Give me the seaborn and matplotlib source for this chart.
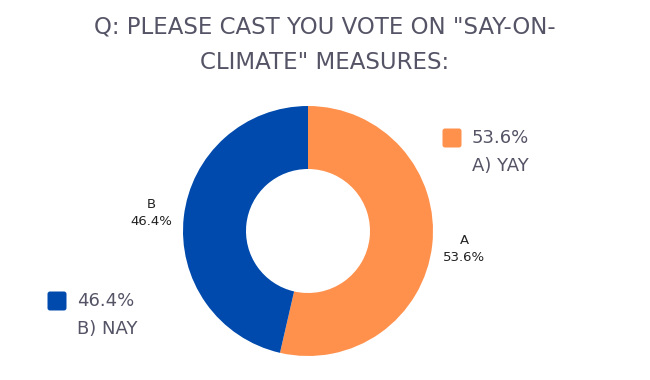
"""Donut chart of the say-on-climate vote."""

import matplotlib

matplotlib.use("Agg")

import matplotlib.pyplot as plt
import seaborn as sns
from matplotlib.patches import FancyBboxPatch

TITLE = 'Q: PLEASE CAST YOU VOTE ON "SAY-ON-\nCLIMATE" MEASURES:'
CATEGORIES = ["A", "B"]
LEGEND_NAMES = ["A) YAY", "B) NAY"]
VOTE_SHARE = [53.6, 46.4]
COLORS = ["#FF914D", "#004AAD"]

TEXT_GRAY = "#545466"
W, H = 650, 380


def main() -> None:
    sns.set_theme(style="white")
    plt.rcParams["font.family"] = ["DejaVu Sans"]

    fig = plt.figure(figsize=(W / 100, H / 100), dpi=100)
    ax = fig.add_axes([0, 0, 1, 1])

    labels = [f"{c}\n{v:.1f}%" for c, v in zip(CATEGORIES, VOTE_SHARE)]
    ax.pie(
        VOTE_SHARE,
        labels=labels,
        colors=COLORS,
        startangle=90,
        counterclock=False,
        center=(308, H - 231),
        radius=125,
        labeldistance=1.26,
        wedgeprops=dict(width=63, edgecolor="white", linewidth=0),
        textprops=dict(fontsize=9.5, color="#222222", ha="center",
                       va="center", linespacing=1.35),
        frame=True,
    )
    ax.set_xlim(0, W)
    ax.set_ylim(0, H)
    ax.set_aspect("equal")
    ax.axis("off")

    fig.text(0.5, 1 - 45 / H, TITLE, ha="center", va="center",
             fontsize=16.5, color=TEXT_GRAY, linespacing=1.7)

    # legend entries: one top right, one bottom left
    spots = [(452, 138), (57, 301)]
    for (x, y), color, share, name in zip(spots, COLORS, VOTE_SHARE,
                                          LEGEND_NAMES):
        yy = H - y
        ax.add_patch(FancyBboxPatch((x - 7, yy - 7), 14, 14,
                                    boxstyle="round,pad=2.5",
                                    facecolor=color, edgecolor="none"))
        ax.text(x + 20, yy, f"{share:.1f}%", ha="left", va="center",
                fontsize=13, color=TEXT_GRAY)
        ax.text(x + 20, yy - 28, name, ha="left", va="center",
                fontsize=13, color=TEXT_GRAY)

    fig.savefig("out.png", dpi=100, facecolor="white")
    plt.close(fig)


if __name__ == "__main__":
    main()
